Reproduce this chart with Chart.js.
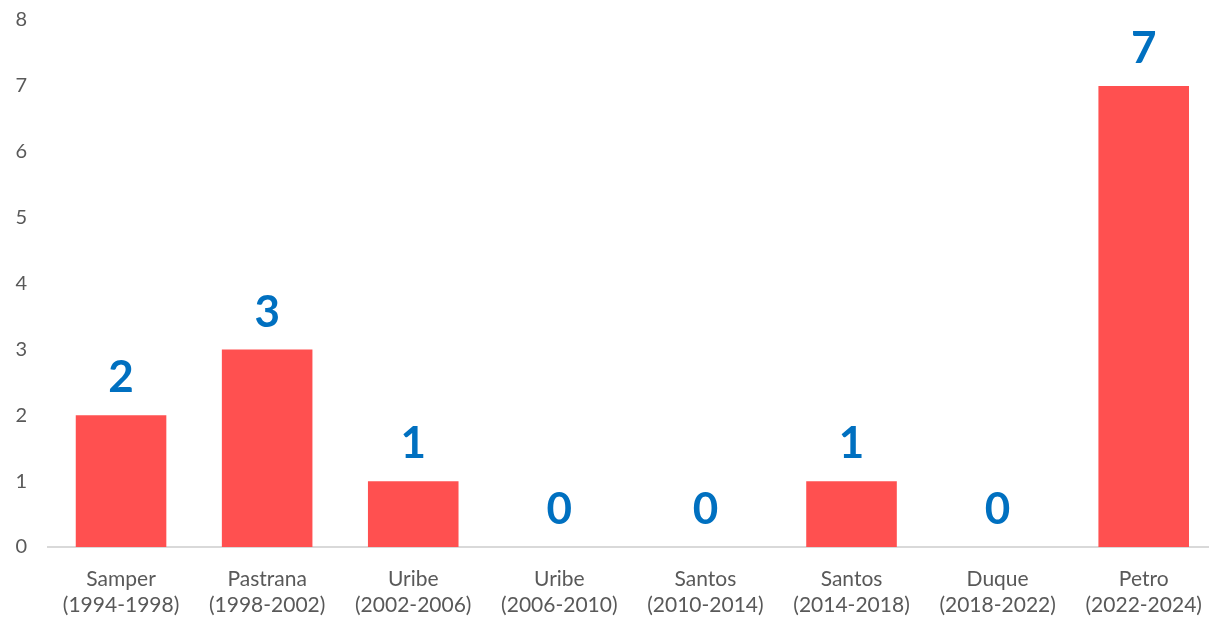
<!DOCTYPE html>
<html>
<head>
<meta charset="utf-8">
<script src="https://cdn.jsdelivr.net/npm/chart.js@4"></script>
<style>
  html, body { margin: 0; padding: 0; background: #fff; overflow: hidden; }
  #chartDiv { width: 1221px; height: 618px; }
</style>
</head>
<body>
<div id="chartDiv"><canvas id="presidentsChart"></canvas></div>
<script>
// categories (two-line labels)
var x_axis_labels = [
    ['Samper', '(1994-1998)'],
    ['Pastrana', '(1998-2002)'],
    ['Uribe', '(2002-2006)'],
    ['Uribe', '(2006-2010)'],
    ['Santos', '(2010-2014)'],
    ['Santos', '(2014-2018)'],
    ['Duque', '(2018-2022)'],
    ['Petro', '(2022-2024)']
];
var data_values = [2, 3, 1, 0, 0, 1, 0, 7];
var y_axis_ticks = [0, 1, 2, 3, 4, 5, 6, 7, 8];

var textGray = '#595959';

// draw the big blue numbers above each bar
var valueLabels = {
    id: 'valueLabels',
    afterDatasetsDraw: function (chart) {
        var ctx = chart.ctx;
        var meta = chart.getDatasetMeta(0);
        ctx.save();
        ctx.font = 'bold 44px Lato';
        ctx.fillStyle = '#0070C0';
        ctx.textAlign = 'center';
        ctx.textBaseline = 'middle';
        meta.data.forEach(function (bar, i) {
            ctx.fillText(String(data_values[i]), bar.x, bar.y - 37);
        });
        ctx.restore();
    }
};

var ctx = document.getElementById('presidentsChart').getContext('2d');
var myChart = new Chart(ctx, {
    type: 'bar',
    data: {
        labels: x_axis_labels,
        datasets: [{
            data: data_values,
            backgroundColor: '#FF5050',
            borderWidth: 0,
            categoryPercentage: 0.62,
            barPercentage: 1
        }]
    },
    options: {
        responsive: true,
        maintainAspectRatio: false,
        animation: false,
        layout: { padding: { top: 20, right: 1, left: 0, bottom: 0 } },
        plugins: {
            legend: { display: false },
            tooltip: { enabled: false }
        },
        scales: {
            x: {
                afterFit: function (axis) { axis.height = 71; },
                grid: { display: false, drawTicks: false },
                border: { display: true, color: '#D9D9D9', width: 2 },
                ticks: {
                    color: textGray,
                    font: { family: 'Lato', size: 21, lineHeight: 1.24 },
                    padding: 19,
                    maxRotation: 0,
                    autoSkip: false
                }
            },
            y: {
                min: 0,
                max: 8,
                afterBuildTicks: function (axis) {
                    axis.ticks = y_axis_ticks.map(function (v) { return { value: v }; });
                },
                afterFit: function (axis) {
                    axis.width = 48;
                    axis.paddingTop = 0;
                    axis.paddingBottom = 0;
                },
                grid: { display: false, drawTicks: false },
                border: { display: false },
                ticks: {
                    color: textGray,
                    font: { family: 'Lato', size: 20 },
                    padding: 21
                }
            }
        }
    },
    plugins: [valueLabels]
});
</script>
</body>
</html>
